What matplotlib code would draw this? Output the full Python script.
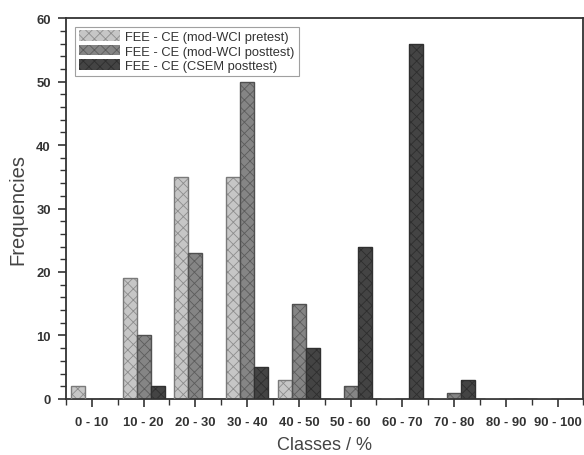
import numpy as np
import matplotlib
matplotlib.use("Agg")
import matplotlib.pyplot as plt
from matplotlib.ticker import MultipleLocator, FixedLocator

plt.rcParams['font.family'] = ['Liberation Sans', 'DejaVu Sans']
plt.rcParams['hatch.linewidth'] = 0.6

# data
classes = ["0 - 10", "10 - 20", "20 - 30", "30 - 40", "40 - 50",
           "50 - 60", "60 - 70", "70 - 80", "80 - 90", "90 - 100"]
wci_pre = [2, 19, 35, 35, 3, 0, 0, 0, 0, 0]
wci_post = [0, 10, 23, 50, 15, 2, 0, 1, 0, 0]
csem_post = [0, 2, 0, 5, 8, 24, 56, 3, 0, 0]
names = ["FEE - CE (mod-WCI pretest)", "FEE - CE (mod-WCI posttest)",
         "FEE - CE (CSEM posttest)"]
colors = ["#c6c6c6", "#858585", "#444444"]
hatch_cols = ["#8c8c8c", "#5c5c5c", "#2e2e2e"]
outline = ["#7a7a7a", "#505050", "#303030"]

fig = plt.figure(figsize=(5.84, 4.56), dpi=100)
ax = fig.add_axes([0.113, 0.123, 0.886, 0.835])

x = np.arange(len(classes))
w = 0.27
series = [wci_pre, wci_post, csem_post]
for i, vals in enumerate(series):
    ax.bar(x + (i - 1) * w, vals, w, color=colors[i], edgecolor=hatch_cols[i],
           hatch="xxx", linewidth=0.0, label=names[i], zorder=2)
    # outline on top of hatch
    ax.bar(x + (i - 1) * w, vals, w, fill=False, edgecolor=outline[i],
           linewidth=1.0, zorder=3)

ax.set_xlim(-0.5, 9.5)
ax.set_ylim(0, 60)
ax.set_xticks(x)
ax.set_xticklabels(classes, fontsize=9.4, fontweight="bold", color="#333333")
ax.xaxis.set_minor_locator(FixedLocator(np.arange(-0.5, 10, 1.0)))
ax.yaxis.set_major_locator(MultipleLocator(10))
ax.yaxis.set_minor_locator(MultipleLocator(2))
for lab in ax.get_yticklabels():
    lab.set_fontsize(9.4)
    lab.set_fontweight("bold")
    lab.set_color("#333333")

ax.tick_params(which="major", direction="out", length=6, width=1.2, color="#333333", pad=5)
ax.tick_params(which="minor", direction="out", length=4, width=1.0, color="#333333")
ax.tick_params(axis="x", which="major", pad=6)
for s in ax.spines.values():
    s.set_linewidth(1.3)
    s.set_color("#333333")

ax.set_xlabel("Classes / %", fontsize=13, color="#444444", labelpad=6)
ax.set_ylabel("Frequencies", fontsize=14.5, color="#444444", labelpad=6)

leg = ax.legend(loc="upper left", bbox_to_anchor=(0.005, 0.995), fontsize=9.3,
                frameon=True, fancybox=False, edgecolor="#888888",
                handlelength=3.2, handleheight=0.9, labelspacing=0.12,
                borderpad=0.3, handletextpad=0.4)
leg.get_frame().set_linewidth(0.8)
for t in leg.get_texts():
    t.set_color("#333333")

fig.savefig("out.png", dpi=100)
